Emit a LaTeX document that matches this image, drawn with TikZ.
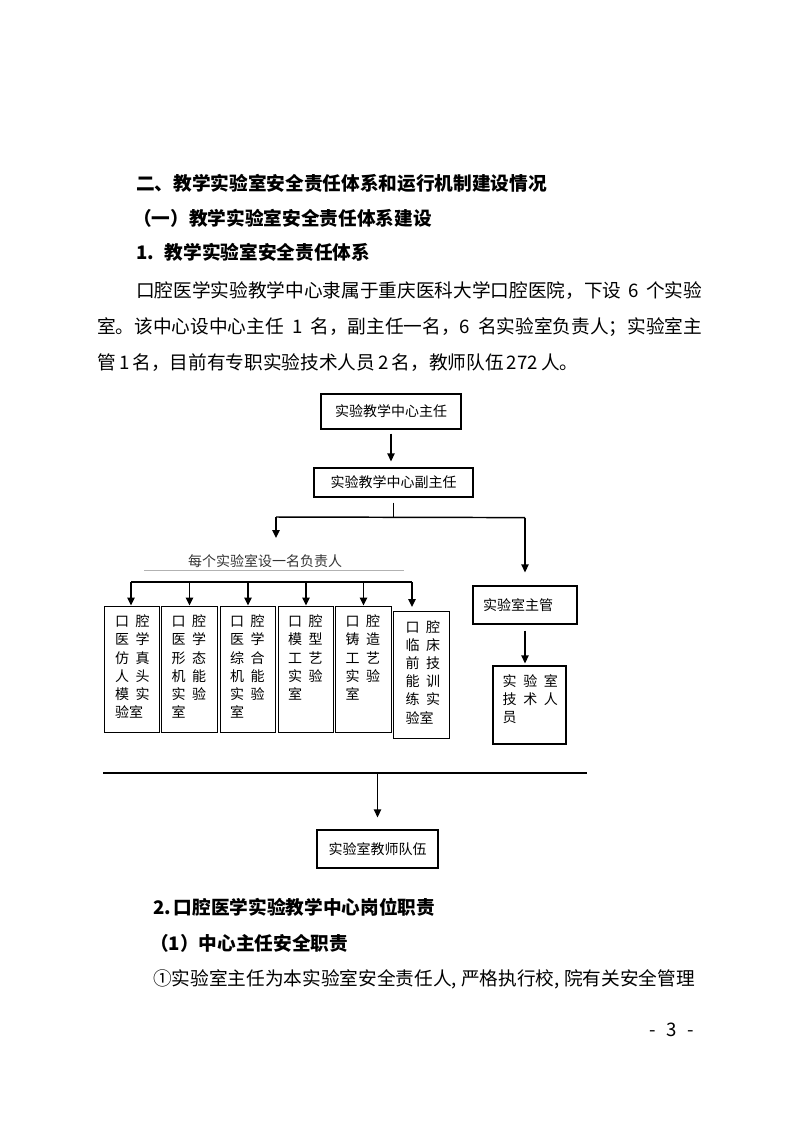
\documentclass[tikz,border=0pt]{standalone}
\usepackage{fontspec}
\setmainfont{Noto Sans CJK SC}
\usetikzlibrary{arrows.meta}
\newcommand{\colgap}{\hspace{5pt}}

\begin{document}
\begin{tikzpicture}[x=0.75pt, y=-0.75pt, >={Triangle[length=6pt,width=5.5pt]},
  head/.style={anchor=west, inner sep=0pt, font=\fontsize{14}{16}\selectfont\bfseries},
  body/.style={anchor=west, inner sep=0pt, font=\fontsize{14}{16}\selectfont},
  box/.style={draw, line width=0.9pt, inner sep=0pt, font=\fontsize{10.5}{13.65}\selectfont},
  labbox/.style={box, minimum width=41.5pt, minimum height=95pt},
  boxtxt/.style={anchor=north west, inner sep=0pt, align=left, font=\fontsize{10.5}{13.65}\selectfont},
  link/.style={line width=1.1pt},
  arr/.style={link, ->}]
\useasboundingbox (0,0) rectangle (793,1122);

\node[head] (h1) at (136,183) {二、教学实验室安全责任体系和运行机制建设情况};
\node[head] (h2) at (133,218) {（一）教学实验室安全责任体系建设};
\node[head] (h3) at (136,252) {1.\hspace{8pt}教学实验室安全责任体系};
\node[body] (p1) at (136,291) {\makebox[424.5pt][s]{口腔医学实验教学中心隶属于重庆医科大学口腔医院，下设 6 个实验}};
\node[body] (p2) at (97,327) {\makebox[453.75pt][s]{室。该中心设中心主任 1 名，副主任一名，6 名实验室负责人；实验室主}};
\node[body] (p3) at (97,363) {管\,1\,名，目前有专职实验技术人员\,2\,名，教师队伍\,272\,人。};

\node[box, minimum width=105pt, minimum height=26.25pt] (dir) at (391,411.5) {实验教学中心主任};
\node[box, minimum width=119.25pt, minimum height=21.75pt] (vdir) at (393.5,482.5) {实验教学中心副主任};
\draw[arr, shorten <=3pt, shorten >=4.5pt] (dir.south) -- (dir.south |- vdir.north);

\node[box, minimum width=78pt, minimum height=28.5pt, text width=63pt, align=left] (mgr) at (525,605) {实验室主管};
\path (vdir.south) ++(0,20) coordinate (fork);
\coordinate (forkL) at (276,517);
\coordinate (forkR) at (mgr.north |- fork);
\coordinate (leadtip) at (276,538);
\draw[link, shorten <=3.75pt] (vdir.south) -- (fork);
\draw[link] (forkL) -- (forkR);
\draw[arr] (forkL) -- (leadtip);
\draw[arr, shorten >=9.75pt] (forkR) -- (mgr.north);

\node[inner sep=0pt, text=black!80, font=\fontsize{10.5}{12}\selectfont] (resp) at (265,561) {每个实验室设一名负责人};
\draw[gray!60, line width=0.6pt] (144,570) -- (404,570);

\coordinate (barL) at (131,582);
\coordinate (barR) at (412,582);
\draw[link] (barL) -- (barR);

\node[labbox] (lab1) at (132,669.5) {};
\node[boxtxt] (lab1t) at ([shift={(11,9)}]lab1.north west) {口\colgap 腔\\医\colgap 学\\仿\colgap 真\\人\colgap 头\\模\colgap 实\\验室};
\node[labbox] (lab2) at (189.5,669.5) {};
\node[boxtxt] (lab2t) at ([shift={(10,9)}]lab2.north west) {口\colgap 腔\\医\colgap 学\\形\colgap 态\\机\colgap 能\\实\colgap 验\\室};
\node[labbox] (lab3) at (248,669.5) {};
\node[boxtxt] (lab3t) at ([shift={(10,9)}]lab3.north west) {口\colgap 腔\\医\colgap 学\\综\colgap 合\\机\colgap 能\\实\colgap 验\\室};
\node[labbox] (lab4) at (306,669.5) {};
\node[boxtxt] (lab4t) at ([shift={(10,9)}]lab4.north west) {口\colgap 腔\\模\colgap 型\\工\colgap 艺\\实\colgap 验\\室};
\node[labbox] (lab5) at (363.5,669.5) {};
\node[boxtxt] (lab5t) at ([shift={(10,9)}]lab5.north west) {口\colgap 腔\\铸\colgap 造\\工\colgap 艺\\实\colgap 验\\室};
\node[labbox] (lab6) at (421.5,675) {};
\node[boxtxt] (lab6t) at ([shift={(12,9)}]lab6.north west) {口\colgap 腔\\临\colgap 床\\前\colgap 技\\能\colgap 训\\练\colgap 实\\验室};

\draw[arr] (barL) -- (barL |- lab1.north);
\draw[arr] (lab2.north |- barL) -- (lab2.north);
\draw[arr] (lab3.north |- barL) -- (lab3.north);
\draw[arr] (lab4.north |- barL) -- (lab4.north);
\draw[arr] (lab5.north |- barL) -- (lab5.north);
\draw[arr, shorten >=3pt] (barR) -- (barR |- lab6.north);

\node[box, minimum width=54.75pt, minimum height=58.5pt] (tech) at (529.5,705) {};
\node[boxtxt] (techt) at ([shift={(10,9)}]tech.north west) {实\colgap 验\colgap 室\\技\colgap 术\colgap 人\\员};
\draw[arr, shorten <=4.5pt, shorten >=1.5pt] (mgr.south) -- (mgr.south |- tech.north);

\coordinate (baseL) at (103,773);
\coordinate (baseR) at (587,773);
\draw[link] (baseL) -- (baseR);
\node[box, minimum width=90.75pt, minimum height=28.5pt] (team) at (377.5,849) {实验室教师队伍};
\draw[arr, shorten >=9pt] (team.north |- baseL) -- (team.north);

\node[head] (h4) at (153,907) {2.\hspace{2pt}口腔医学实验教学中心岗位职责};
\node[head] (h5) at (150,943) {（1）中心主任安全职责};
\node[body] (p4) at (153,979) {①实验室主任为本实验室安全责任人, 严格执行校, 院有关安全管理};
\node[body, anchor=center] (pg) at (672,1030) {-\hspace{8pt}3\hspace{8pt}-};
\end{tikzpicture}
\end{document}
